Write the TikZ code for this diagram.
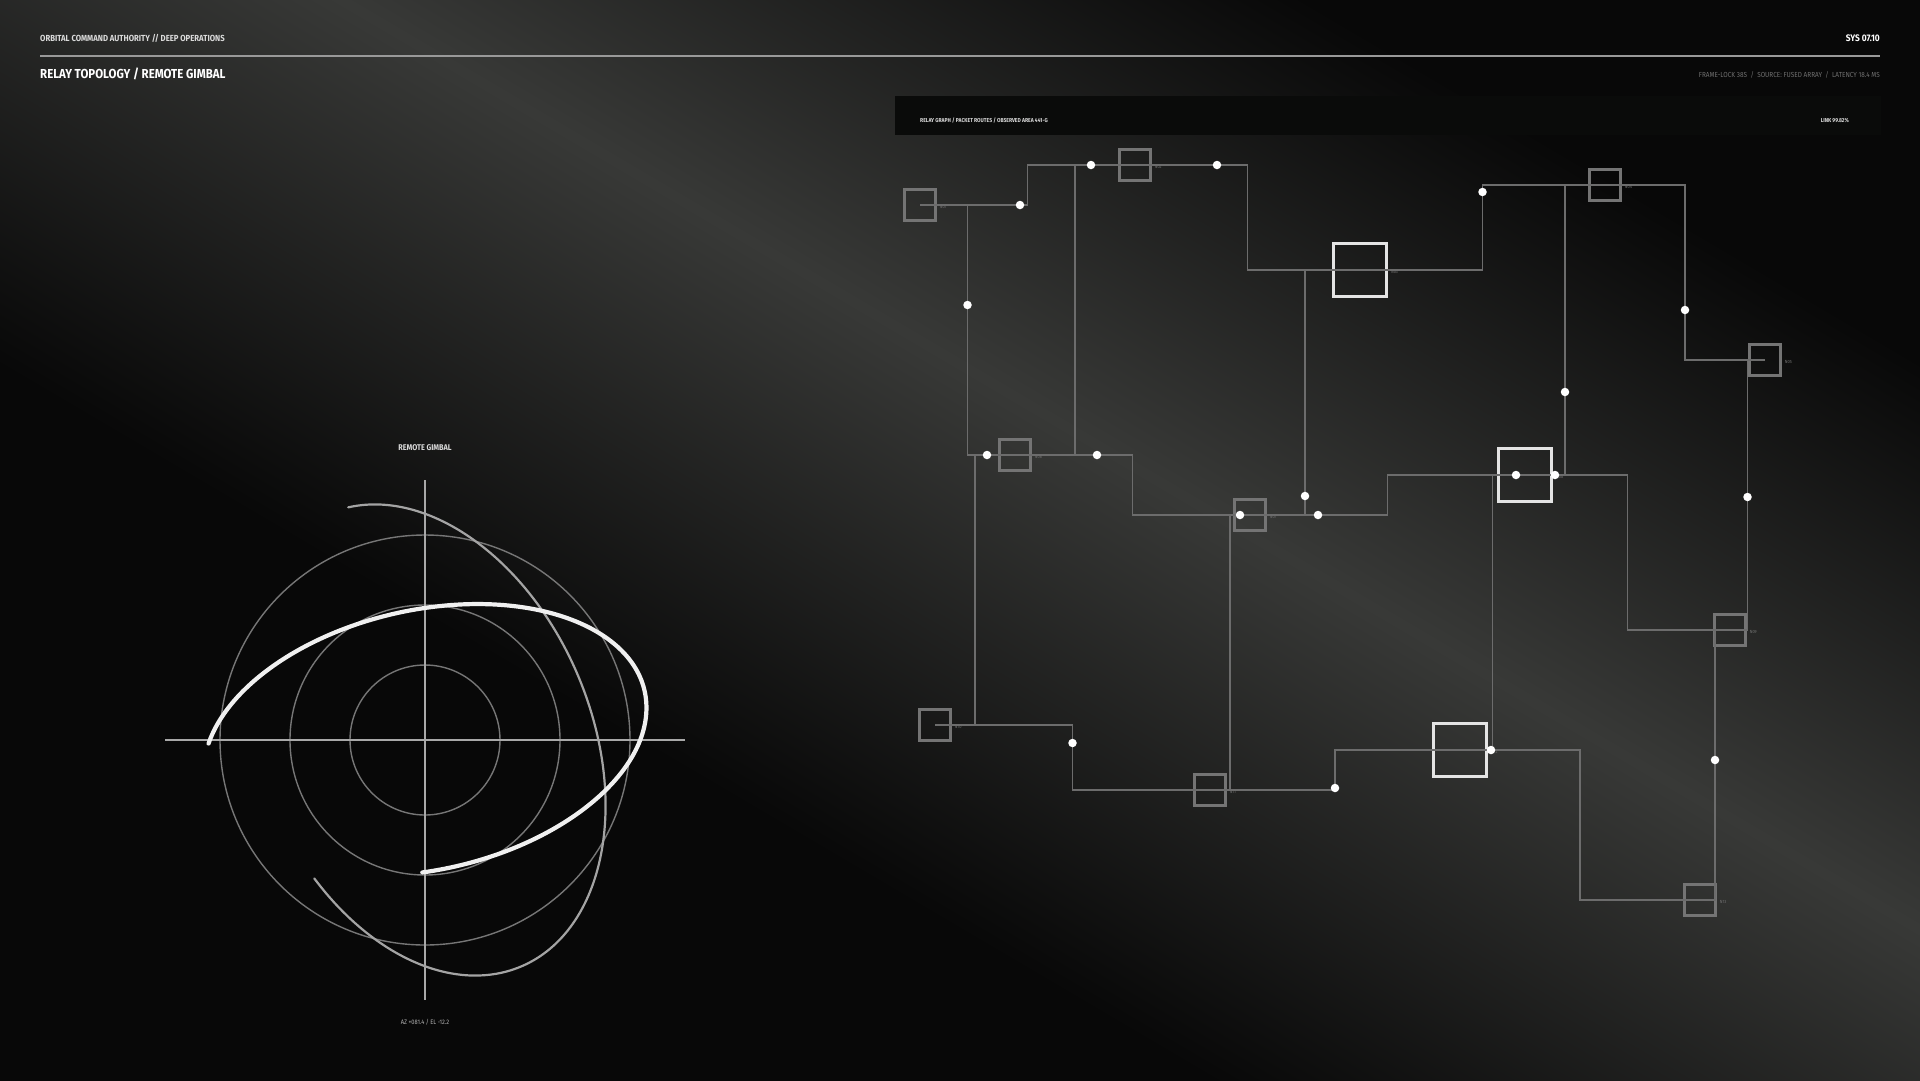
\documentclass[tikz,border=0pt]{standalone}
\usepackage{fontspec}
\setmainfont{Fira Sans}
\newfontfamily\hudfont[FakeStretch=0.88]{Fira Sans}
\usetikzlibrary{calc,positioning}

\definecolor{bgdark}{HTML}{080808}
\definecolor{bgband}{HTML}{383937}
\definecolor{barfill}{HTML}{0A0B0A}
\definecolor{linkgray}{HTML}{6C6C6C}
\definecolor{boxgray}{HTML}{747474}
\definecolor{boxlight}{HTML}{E4E4E4}
\definecolor{textlight}{HTML}{DADADA}
\definecolor{textdim}{HTML}{707070}
\definecolor{ringgray}{HTML}{767676}
\definecolor{crossgray}{HTML}{A8A8A8}
\definecolor{orbitgray}{HTML}{A4A4A4}

\tikzset{
  smallbox/.style={draw=boxgray, line width=2.3pt, minimum size=31pt, inner sep=0pt},
  bigbox/.style={draw=boxlight, line width=2.8pt, minimum size=53pt, inner sep=0pt},
  nodelabel/.style={font=\hudfont\fontsize{4.5}{5}\selectfont, text=textdim, inner sep=0pt},
  link/.style={draw=linkgray, line width=1.7pt},
  route/.style={to path={-| ($(\tikztostart)!.5!(\tikztotarget)$) |- (\tikztotarget) \tikztonodes}},
  packet/.style={circle, fill=white, minimum size=8.5pt, inner sep=0pt},
  hudtext/.style={inner sep=0pt, text=textlight, font=\hudfont\bfseries},
}

\begin{document}
\begin{tikzpicture}[x=1pt, y=-1pt]
\useasboundingbox (0,0) rectangle (1920,1080);

%Background
\fill[bgdark] (-10,-10) rectangle (1930,1090);
\shade[transform canvas={rotate around={-30.5:(1194,502)}}, top color=bgdark, bottom color=bgdark,
  middle color=bgband] (-900,12) rectangle (3300,992);

%Header
\node[hudtext, anchor=base west, font=\hudfont\bfseries\fontsize{8.8}{9}\selectfont] (org) at (40,41)
  {ORBITAL COMMAND AUTHORITY // DEEP OPERATIONS};
\node[hudtext, anchor=base east, font=\hudfont\bfseries\fontsize{9.5}{10}\selectfont, text=white] (sys) at (1880,41)
  {SYS 07.10};
\coordinate (ruleL) at (40,56);
\coordinate (ruleR) at (1880,56);
\draw[draw=gray!80, line width=1.8pt] (ruleL) -- (ruleR);
\node[hudtext, anchor=base west, font=\hudfont\bfseries\fontsize{13}{14}\selectfont, text=white] (title) at (40,78)
  {RELAY TOPOLOGY / REMOTE GIMBAL};
\node[hudtext, anchor=base east, font=\hudfont\fontsize{7.3}{8}\selectfont, text=textdim] (meta) at (1880,77)
  {FRAME-LOCK 38S \ / \ SOURCE: FUSED ARRAY \ / \ LATENCY 18.4 MS};

%Graph header bar
\fill[barfill] (895,96) rectangle (1881,135);
\node[hudtext, anchor=base west, font=\hudfont\bfseries\fontsize{5.7}{6}\selectfont] (bar) at (920,122)
  {RELAY GRAPH / PACKET ROUTES / OBSERVED AREA 441-G};
\node[hudtext, anchor=base east, font=\hudfont\bfseries\fontsize{5.7}{6}\selectfont] (link) at (1849,122)
  {LINK 99.82\%};

%%%%%%%%%%%%%%%%%Relay nodes%%%%%%%%%%%%%%
%Row 1
\node[smallbox, label={[name=t01, nodelabel, xshift=3pt, yshift=-2pt]right:N01}] (n01) at (920,205){};
\node[smallbox, label={[name=t02, nodelabel, xshift=3pt, yshift=-2pt]right:N02}] (n02) at (1135,165){};
\node[bigbox, label={[name=t03, nodelabel, xshift=3pt, yshift=-2pt]right:N03}] (n03) at (1360,270){};
\node[smallbox, label={[name=t04, nodelabel, xshift=3pt, yshift=-2pt]right:N04}] (n04) at (1605,185){};
\node[smallbox, label={[name=t05, nodelabel, xshift=3pt, yshift=-2pt]right:N05}] (n05) at (1765,360){};

%Row 2
\node[smallbox, label={[name=t06, nodelabel, xshift=3pt, yshift=-2pt]right:N06}] (n06) at (1015,455){};
\node[smallbox, label={[name=t07, nodelabel, xshift=3pt, yshift=-2pt]right:N07}] (n07) at (1250,515){};
\node[bigbox, label={[name=t08, nodelabel, xshift=3pt, yshift=-2pt]right:N08}] (n08) at (1525,475){};
\node[smallbox, label={[name=t09, nodelabel, xshift=3pt, yshift=-2pt]right:N09}] (n09) at (1730,630){};

%Row 3
\node[smallbox, label={[name=t10, nodelabel, xshift=3pt, yshift=-2pt]right:N10}] (n10) at (935,725){};
\node[smallbox, label={[name=t11, nodelabel, xshift=3pt, yshift=-2pt]right:N11}] (n11) at (1210,790){};
\node[bigbox, label={[name=t12, nodelabel, xshift=3pt, yshift=-2pt]right:N12}] (n12) at (1460,750){};
\node[smallbox, label={[name=t13, nodelabel, xshift=3pt, yshift=-2pt]right:N13}] (n13) at (1700,900){};

%Routes
\draw[link] (n01.center) to[route] (n02.center);
\draw[link] (n02.center) to[route] (n03.center);
\draw[link] (n01.center) to[route] (n06.center);
\draw[link] (n02.center) to[route] (n06.center);
\draw[link] (n06.center) to[route] (n07.center);
\draw[link] (n06.center) to[route] (n10.center);
\draw[link] (n03.center) to[route] (n07.center);
\draw[link] (n03.center) to[route] (n04.center);
\draw[link] (n04.center) to[route] (n05.center);
\draw[link] (n04.center) to[route] (n08.center);
\draw[link] (n07.center) to[route] (n08.center);
\draw[link] (n07.center) to[route] (n11.center);
\draw[link] (n05.center) to[route] (n09.center);
\draw[link] (n08.center) to[route] (n09.center);
\draw[link] (n08.center) to[route] (n12.center);
\draw[link] (n10.center) to[route] (n11.center);
\draw[link] (n11.center) to[route] (n12.center);
\draw[link] (n12.center) to[route] (n13.center);
\draw[link] (n09.center) to[route] (n13.center);

%Packets
\node[packet] (p01) at (1020,205){};
\node[packet] (p02) at (1091,165){};
\node[packet] (p03) at (1217,165){};
\node[packet] (p04) at (967.5,305){};
\node[packet] (p05) at (987,455){};
\node[packet] (p06) at (1097,455){};
\node[packet] (p07) at (1305,496){};
\node[packet] (p08) at (1240,515){};
\node[packet] (p09) at (1318,515){};
\node[packet] (p10) at (1516,475){};
\node[packet] (p11) at (1555,475){};
\node[packet] (p12) at (1482.5,192){};
\node[packet] (p13) at (1565,392){};
\node[packet] (p14) at (1685,310){};
\node[packet] (p15) at (1747.5,497){};
\node[packet] (p16) at (1715,760){};
\node[packet] (p17) at (1072.5,743){};
\node[packet] (p18) at (1335,788){};
\node[packet] (p19) at (1491,750){};

%%%%%%%%%%%%%%%%%Remote gimbal%%%%%%%%%%%%%%
\node[hudtext, anchor=base, font=\hudfont\bfseries\fontsize{8.3}{9}\selectfont] (gtitle) at (425,450)
  {REMOTE GIMBAL};
\coordinate (gc) at (425,740);
\coordinate (gW) at (165,740);
\coordinate (gE) at (685,740);
\coordinate (gN) at (425,480);
\coordinate (gS) at (425,1000);

%Rings
\draw[ringgray, line width=1.4pt] (gc) circle[radius=75pt];
\draw[ringgray, line width=1.4pt] (gc) circle[radius=135pt];
\draw[ringgray, line width=1.4pt] (gc) circle[radius=205pt];

%Crosshair
\draw[crossgray, line width=1.6pt] (gW) -- (gE);
\draw[crossgray, line width=1.6pt] (gN) -- (gS);

%Orbits
\begin{scope}[shift={(gc)}, y=1pt, rotate=23]
\draw[orbitgray, line width=2.2pt, line cap=round] (83:166 and 246)
  arc[start angle=83, end angle=-160, x radius=166pt, y radius=246pt];
\end{scope}
\begin{scope}[shift={(gc)}, y=1pt, rotate=12.5]
\draw[white!94!black, line width=4.2pt, line cap=round] (-98:225 and 130)
  arc[start angle=-98, end angle=160.5, x radius=225pt, y radius=130pt];
\end{scope}

\node[hudtext, anchor=base, font=\hudfont\fontsize{6.5}{7}\selectfont, text=gray!60!white] (azel) at (425,1024)
  {AZ +081.4 / EL -12.2};

\end{tikzpicture}
\end{document}
